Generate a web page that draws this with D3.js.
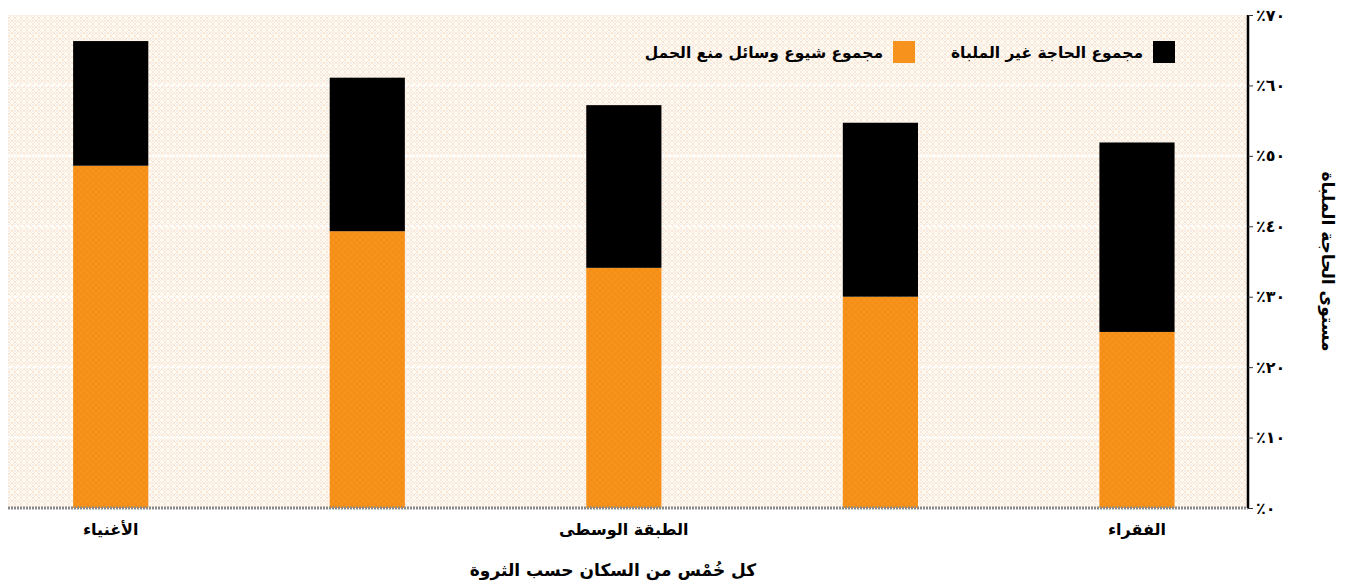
<!DOCTYPE html>
<html>
<head>
<meta charset="utf-8">
<script src="https://cdn.jsdelivr.net/npm/d3@7"></script>
<style>
  body { margin: 0; background: #fff; }
  svg text { font-family: "DejaVu Sans", sans-serif; }
</style>
</head>
<body>
<svg id="chart"></svg>
<script>
// quintiles, richest on the left
const categories = ['q5', 'q4', 'q3', 'q2', 'q1'];
const categoryLabels = ['الأغنياء', '', 'الطبقة الوسطى', '', 'الفقراء'];
const contraceptive = [48.6, 39.3, 34.1, 30.0, 25.0];   // orange
const unmetNeed = [17.7, 21.8, 23.1, 24.7, 26.9];       // black
const yTicks = [0, 10, 20, 30, 40, 50, 60, 70];
const seriesNames = ['مجموع الحاجة غير الملباة', 'مجموع شيوع وسائل منع الحمل'];

const colors = {
    orange: '#f7931d',
    black: '#000000'
};

const width = 1347;
const height = 587;
const plot = {left: 8, right: 1248, top: 15, bottom: 508};

const toArabic = n => String(n).replace(/[0-9]/g, d => '٠١٢٣٤٥٦٧٨٩'[d]);

const svg = d3.select('#chart')
    .attr('width', width)
    .attr('height', height);

// background texture
const defs = svg.append('defs');
const pat = defs.append('pattern')
    .attr('id', 'bg')
    .attr('patternUnits', 'userSpaceOnUse')
    .attr('width', 6).attr('height', 6);
pat.append('rect').attr('width', 6).attr('height', 6).attr('fill', '#fefbf3');
pat.append('path').attr('d', 'M0,3 L3,0 L6,3 L3,6 Z')
    .attr('fill', 'none').attr('stroke', '#f9e2d4').attr('stroke-width', 0.9);
pat.append('circle').attr('cx', 3).attr('cy', 3).attr('r', 0.8).attr('fill', '#e6e1dc');

const opat = defs.append('pattern')
    .attr('id', 'orangeTex')
    .attr('patternUnits', 'userSpaceOnUse')
    .attr('width', 6).attr('height', 6);
opat.append('rect').attr('width', 6).attr('height', 6).attr('fill', colors.orange);
opat.append('path').attr('d', 'M0,3 L3,0 L6,3 L3,6 Z')
    .attr('fill', 'none').attr('stroke', '#f28c12').attr('stroke-width', 1);

const x = d3.scaleBand()
    .domain(categories)
    .range([plot.left, plot.right])
    .paddingInner(0.707)
    .paddingOuter(0.27)
    .align(0.47);

const y = d3.scaleLinear()
    .domain([0, 70])
    .range([plot.bottom, plot.top]);

svg.append('rect')
    .attr('x', plot.left).attr('y', plot.top)
    .attr('width', plot.right - plot.left)
    .attr('height', plot.bottom - plot.top)
    .attr('fill', 'url(#bg)');

// gridlines
svg.append('g')
    .selectAll('line')
    .data(yTicks.filter(d => d > 0 && d < 70))
    .enter().append('line')
    .attr('x1', plot.left).attr('x2', plot.right)
    .attr('y1', d => y(d)).attr('y2', d => y(d))
    .attr('stroke', '#ffffff')
    .attr('stroke-width', 2)
    .attr('stroke-dasharray', '4,2');

// stacked bars
const stackData = categories.map((c, i) => ({cat: c, contraceptive: contraceptive[i], unmet: unmetNeed[i]}));
const stacked = d3.stack().keys(['contraceptive', 'unmet'])(stackData);
const fills = ['url(#orangeTex)', colors.black];

svg.append('g')
    .selectAll('g')
    .data(stacked)
    .enter().append('g')
    .attr('fill', (d, i) => fills[i])
    .selectAll('rect')
    .data(d => d)
    .enter().append('rect')
    .attr('x', d => x(d.data.cat))
    .attr('width', x.bandwidth())
    .attr('y', d => y(d[1]))
    .attr('height', d => y(d[0]) - y(d[1]));

// baseline
svg.append('line')
    .attr('x1', plot.left).attr('x2', plot.right)
    .attr('y1', plot.bottom).attr('y2', plot.bottom)
    .attr('stroke', '#8a8a8a')
    .attr('stroke-width', 3)
    .attr('stroke-dasharray', '2,1');

// x axis labels
const xAxis = d3.axisBottom(x)
    .tickSize(0)
    .tickFormat((d, i) => categoryLabels[i]);
const gx = svg.append('g')
    .attr('transform', `translate(0,${plot.bottom})`)
    .call(xAxis);
gx.select('.domain').remove();
gx.selectAll('text')
    .attr('dy', 0)
    .attr('y', 27)
    .attr('direction', 'rtl')
    .style('font-size', '16px')
    .style('font-weight', 'bold')
    .style('font-family', '"DejaVu Sans", sans-serif')
    .attr('fill', '#000');

svg.append('text')
    .attr('x', 613)
    .attr('y', 576)
    .attr('text-anchor', 'middle')
    .attr('direction', 'rtl')
    .style('font-size', '17px')
    .style('font-weight', 'bold')
    .text('كل خُمْس من السكان حسب الثروة');

// y axis on the right
const yAxis = d3.axisRight(y)
    .tickValues(yTicks)
    .tickSize(5)
    .tickPadding(3)
    .tickFormat(d => '٪' + toArabic(d));
const gy = svg.append('g')
    .attr('transform', `translate(${plot.right},0)`)
    .call(yAxis);
gy.select('.domain')
    .attr('stroke', '#000')
    .attr('stroke-width', 2.5)
    .attr('d', `M0,${plot.top}V${plot.bottom}`);
gy.selectAll('.tick line').attr('stroke', '#333');
gy.selectAll('.tick text')
    .style('font-size', '16px')
    .style('font-weight', 'bold')
    .style('font-family', '"DejaVu Sans", sans-serif')
    .attr('direction', 'ltr')
    .attr('fill', '#000');

svg.append('text')
    .attr('transform', `translate(1322,${(plot.top + plot.bottom) / 2}) rotate(90)`)
    .attr('text-anchor', 'middle')
    .attr('direction', 'rtl')
    .style('font-size', '17px')
    .style('font-weight', 'bold')
    .text('مستوى الحاجة الملباة');

// legend
const legendItems = [
    {name: seriesNames[0], fill: colors.black, right: 1175},
    {name: seriesNames[1], fill: colors.orange, right: 915}
];
const legend = svg.append('g')
    .selectAll('g')
    .data(legendItems)
    .enter().append('g');
legend.append('rect')
    .attr('x', d => d.right - 22)
    .attr('y', 41)
    .attr('width', 22)
    .attr('height', 22)
    .attr('fill', d => d.fill);
legend.append('text')
    .attr('x', d => d.right - 32)
    .attr('y', 58)
    .attr('direction', 'rtl')
    .attr('text-anchor', 'start')
    .style('font-size', '15.5px')
    .style('font-weight', 'bold')
    .text(d => d.name);
</script>
</body>
</html>
